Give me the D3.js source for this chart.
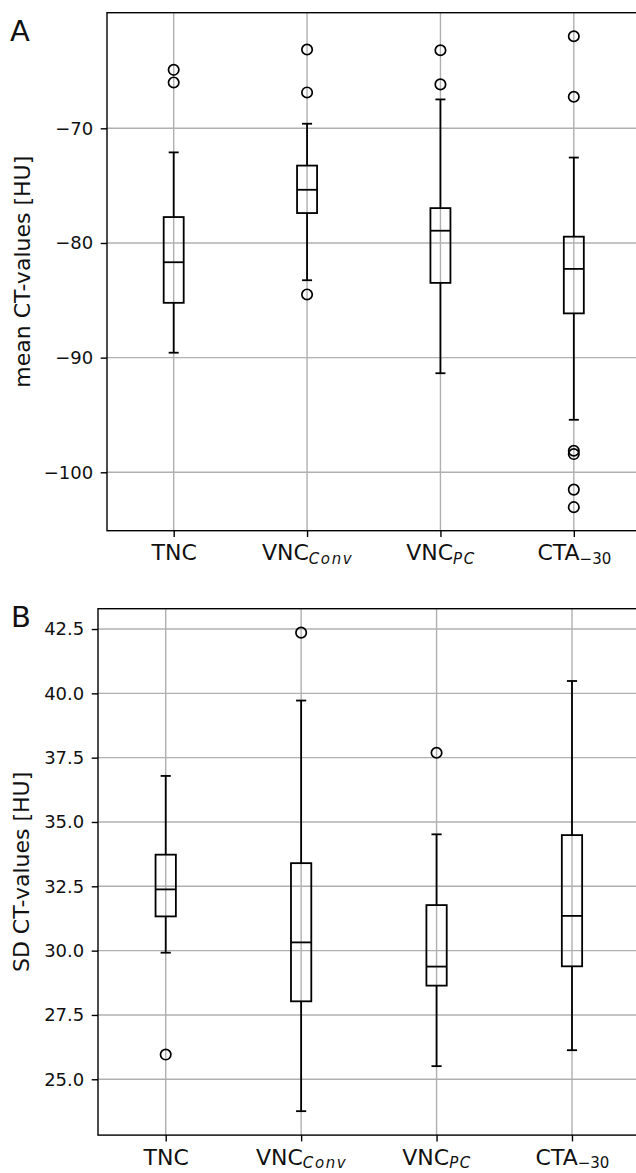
<!DOCTYPE html>
<html>
<head>
<meta charset="utf-8">
<script src="https://cdn.jsdelivr.net/npm/d3@7"></script>
<style>
  body { margin: 0; background: #fff; }
  svg { display: block; font-family: "DejaVu Sans", sans-serif; }
</style>
</head>
<body>
<svg id="chart" width="636" height="1173"></svg>
<script>
// categories and tick labels (main text + subscript)
var categories = ["TNC", "VNC_Conv", "VNC_PC", "CTA_-30"];
var tickMain = ["TNC", "VNC", "VNC", "CTA"];
var tickSub = ["", "Conv", "PC", "\u221230"];
var tickSubItalic = [false, true, true, false];

// panel A: mean CT-values [HU]
var meanWhiskLow  = [-89.57, -83.25, -91.36, -95.42];
var meanQ1        = [-85.22, -77.39, -83.48, -86.14];
var meanMedian    = [-81.68, -75.36, -78.93, -82.26];
var meanQ3        = [-77.74, -73.25, -76.96, -79.45];
var meanWhiskHigh = [-72.10, -69.60, -67.48, -72.55];
var meanOutliers  = [
  [-64.9, -66.0],
  [-63.13, -66.87, -84.49],
  [-63.19, -66.17],
  [-61.97, -67.25, -98.12, -98.41, -101.51, -103.04]
];
var meanTicks = [-100, -90, -80, -70];

// panel B: SD CT-values [HU]
var sdWhiskLow  = [29.92, 23.76, 25.51, 26.13];
var sdQ1        = [31.33, 28.03, 28.64, 29.39];
var sdMedian    = [32.38, 30.32, 29.38, 31.35];
var sdQ3        = [33.73, 33.40, 31.77, 34.49];
var sdWhiskHigh = [36.79, 39.72, 34.52, 40.48];
var sdOutliers  = [[25.96], [42.36], [37.69], []];
var sdTicks = [25, 27.5, 30, 32.5, 35, 37.5, 40, 42.5];

(function() {
  var svg = d3.select("#chart");
  var gridColor = "#b0b0b0";

  function drawPanel(p) {
    var g = svg.append("g");
    var boxes = categories.map(function(c, i) {
      return {cat: c, low: p.low[i], q1: p.q1[i], med: p.med[i], q3: p.q3[i], high: p.high[i], out: p.out[i]};
    });

    // y domain: data extent with 5% margins
    var all = d3.merge(boxes.map(function(b) { return b.out.concat([b.low, b.high]); }));
    var ext = d3.extent(all), pad = (ext[1] - ext[0]) * 0.05;
    var y = d3.scaleLinear().domain([ext[0] - pad, ext[1] + pad]).range([p.bottom, p.top]);
    var x = d3.scalePoint().domain(categories).range([p.left, p.right]).padding(0.5);
    var step = x.step();
    var boxW = step * 0.15, capW = step * 0.075;

    // grid
    g.append("g").selectAll("line.h").data(p.ticks).enter().append("line")
      .attr("x1", p.left).attr("x2", p.right)
      .attr("y1", function(d) { return y(d); }).attr("y2", function(d) { return y(d); })
      .attr("stroke", gridColor).attr("stroke-width", 1.4);
    g.append("g").selectAll("line.v").data(categories).enter().append("line")
      .attr("x1", function(d) { return x(d); }).attr("x2", function(d) { return x(d); })
      .attr("y1", p.top).attr("y2", p.bottom)
      .attr("stroke", gridColor).attr("stroke-width", 1.4);

    // boxes
    var bg = g.append("g").selectAll("g").data(boxes).enter().append("g")
      .attr("stroke", "#000").attr("stroke-width", 1.8).attr("fill", "none");
    bg.append("line")
      .attr("x1", function(d) { return x(d.cat); }).attr("x2", function(d) { return x(d.cat); })
      .attr("y1", function(d) { return y(d.high); }).attr("y2", function(d) { return y(d.q3); });
    bg.append("line")
      .attr("x1", function(d) { return x(d.cat); }).attr("x2", function(d) { return x(d.cat); })
      .attr("y1", function(d) { return y(d.q1); }).attr("y2", function(d) { return y(d.low); });
    bg.append("line")
      .attr("x1", function(d) { return x(d.cat) - capW / 2; }).attr("x2", function(d) { return x(d.cat) + capW / 2; })
      .attr("y1", function(d) { return y(d.high); }).attr("y2", function(d) { return y(d.high); });
    bg.append("line")
      .attr("x1", function(d) { return x(d.cat) - capW / 2; }).attr("x2", function(d) { return x(d.cat) + capW / 2; })
      .attr("y1", function(d) { return y(d.low); }).attr("y2", function(d) { return y(d.low); });
    bg.append("rect")
      .attr("x", function(d) { return x(d.cat) - boxW / 2; }).attr("width", boxW)
      .attr("y", function(d) { return y(d.q3); })
      .attr("height", function(d) { return y(d.q1) - y(d.q3); });
    bg.append("line")
      .attr("x1", function(d) { return x(d.cat) - boxW / 2; }).attr("x2", function(d) { return x(d.cat) + boxW / 2; })
      .attr("y1", function(d) { return y(d.med); }).attr("y2", function(d) { return y(d.med); });
    bg.selectAll("circle")
      .data(function(d) { return d.out.map(function(v) { return {cat: d.cat, v: v}; }); })
      .enter().append("circle")
      .attr("cx", function(d) { return x(d.cat); })
      .attr("cy", function(d) { return y(d.v); })
      .attr("r", 5.2).attr("stroke-width", 1.7);

    // spines
    g.append("rect")
      .attr("x", p.left).attr("y", p.top)
      .attr("width", p.right - p.left).attr("height", p.bottom - p.top)
      .attr("fill", "none").attr("stroke", "#000").attr("stroke-width", 1.4);

    // y axis
    var ya = g.append("g").attr("transform", "translate(" + p.left + ",0)")
      .call(d3.axisLeft(y).tickValues(p.ticks).tickSize(6.3).tickPadding(7.5).tickSizeOuter(0)
        .tickFormat(p.fmt));
    ya.select(".domain").remove();
    ya.attr("font-size", 18).attr("font-family", "DejaVu Sans");
    ya.selectAll(".tick line").attr("stroke-width", 1.4);
    ya.selectAll(".tick text").attr("fill", "#111");

    // x axis
    var xa = g.append("g").attr("transform", "translate(0," + p.bottom + ")")
      .call(d3.axisBottom(x).tickSize(6.3).tickPadding(7.5).tickSizeOuter(0));
    xa.select(".domain").remove();
    xa.attr("font-size", 22).attr("font-family", "DejaVu Sans");
    xa.selectAll(".tick line").attr("stroke-width", 1.4);
    xa.selectAll(".tick text").attr("fill", "#111").each(function(d, i) {
      var t = d3.select(this).text(null);
      t.append("tspan").text(tickMain[i]);
      if (tickSub[i]) {
        t.append("tspan").attr("dy", 3.5).attr("font-size", 15)
          .attr("font-style", tickSubItalic[i] ? "italic" : "normal")
          .attr("letter-spacing", tickSubItalic[i] ? 1.6 : 0)
          .text(tickSub[i]);
      }
    });

    // y label
    g.append("text")
      .attr("transform", "translate(" + p.labelX + "," + (p.top + p.bottom) / 2 + ") rotate(-90)")
      .attr("text-anchor", "middle").attr("font-size", 22).attr("fill", "#111")
      .text(p.label);

    // panel letter
    g.append("text").attr("x", p.letterX).attr("y", p.letterY)
      .attr("font-size", 29).attr("fill", "#111").text(p.letter);
  }

  drawPanel({
    low: meanWhiskLow, q1: meanQ1, med: meanMedian, q3: meanQ3, high: meanWhiskHigh, out: meanOutliers,
    ticks: meanTicks, fmt: function(d) { return d3.format("d")(d).replace("-", "\u2212"); },
    left: 107, right: 640.5, top: 12.7, bottom: 530.7,
    label: "mean CT-values [HU]", labelX: 29.5, letter: "A", letterX: 10, letterY: 41
  });

  drawPanel({
    low: sdWhiskLow, q1: sdQ1, med: sdMedian, q3: sdQ3, high: sdWhiskHigh, out: sdOutliers,
    ticks: sdTicks, fmt: d3.format(".1f"),
    left: 98, right: 639.7, top: 608.7, bottom: 1135.1,
    label: "SD CT-values [HU]", labelX: 28.5, letter: "B", letterX: 11, letterY: 627
  });
})();
</script>
</body>
</html>
